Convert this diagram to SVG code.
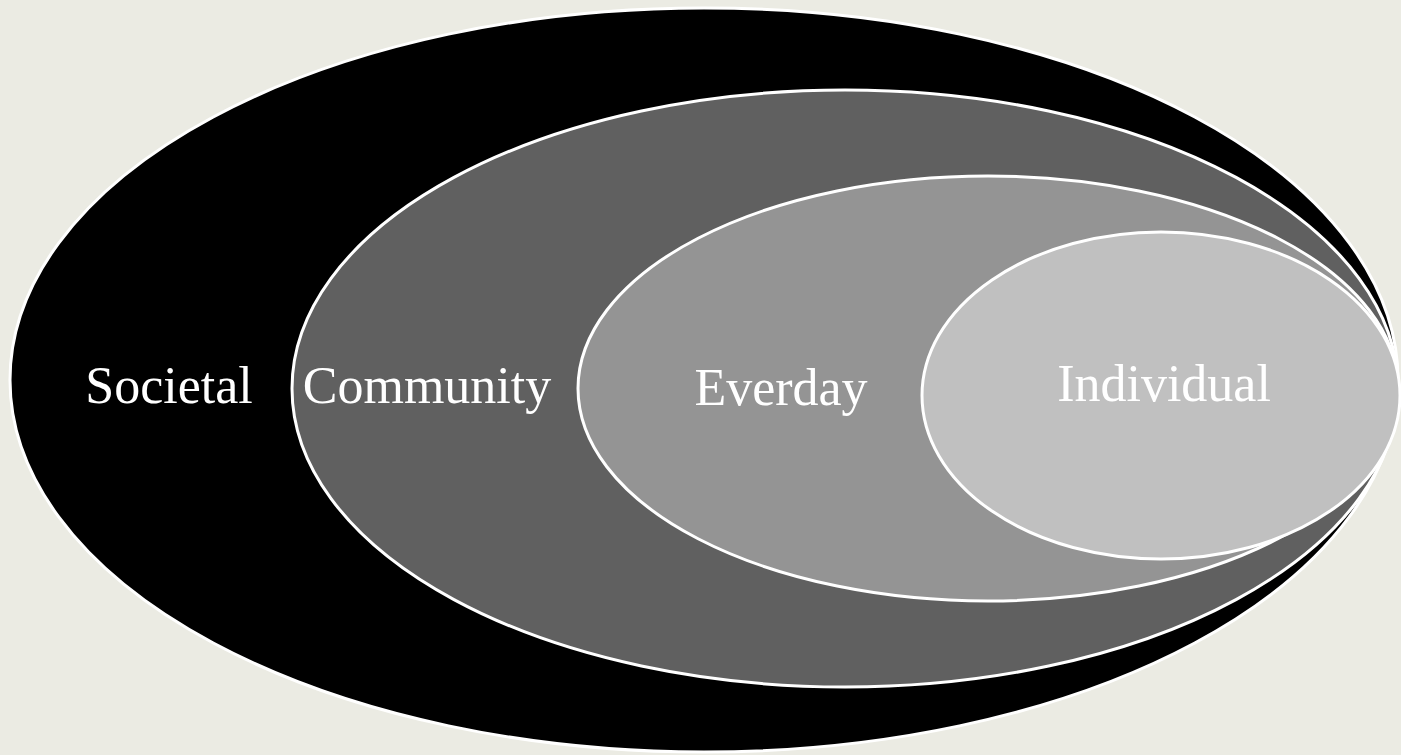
<svg xmlns="http://www.w3.org/2000/svg" width="1401" height="755" viewBox="0 0 1401 755">
<style>
.e{stroke:#FFFFFF;stroke-width:3}
.t{font-family:"Liberation Serif","Times New Roman",serif;font-size:52px;fill:#FFFFFF;text-anchor:middle}
</style>
<rect x="0" y="0" width="1401" height="755" fill="#EBEBE3"/>
<g id="societal">
<ellipse class="e" cx="704" cy="380" rx="694" ry="372" fill="#000000"/>
<text class="t" x="169" y="403">Societal</text>
</g>
<g id="community">
<ellipse class="e" cx="845" cy="388.5" rx="553" ry="298.5" fill="#606060"/>
<text class="t" x="427" y="403">Community</text>
</g>
<g id="everday">
<ellipse class="e" cx="988" cy="388.5" rx="410" ry="212.5" fill="#949494"/>
<text class="t" x="781" y="405">Everday</text>
</g>
<g id="individual">
<ellipse class="e" cx="1161" cy="395.5" rx="239" ry="163.5" fill="#C0C0C0"/>
<text class="t" x="1164" y="401">Individual</text>
</g>
<g id="connectors"/>
</svg>
